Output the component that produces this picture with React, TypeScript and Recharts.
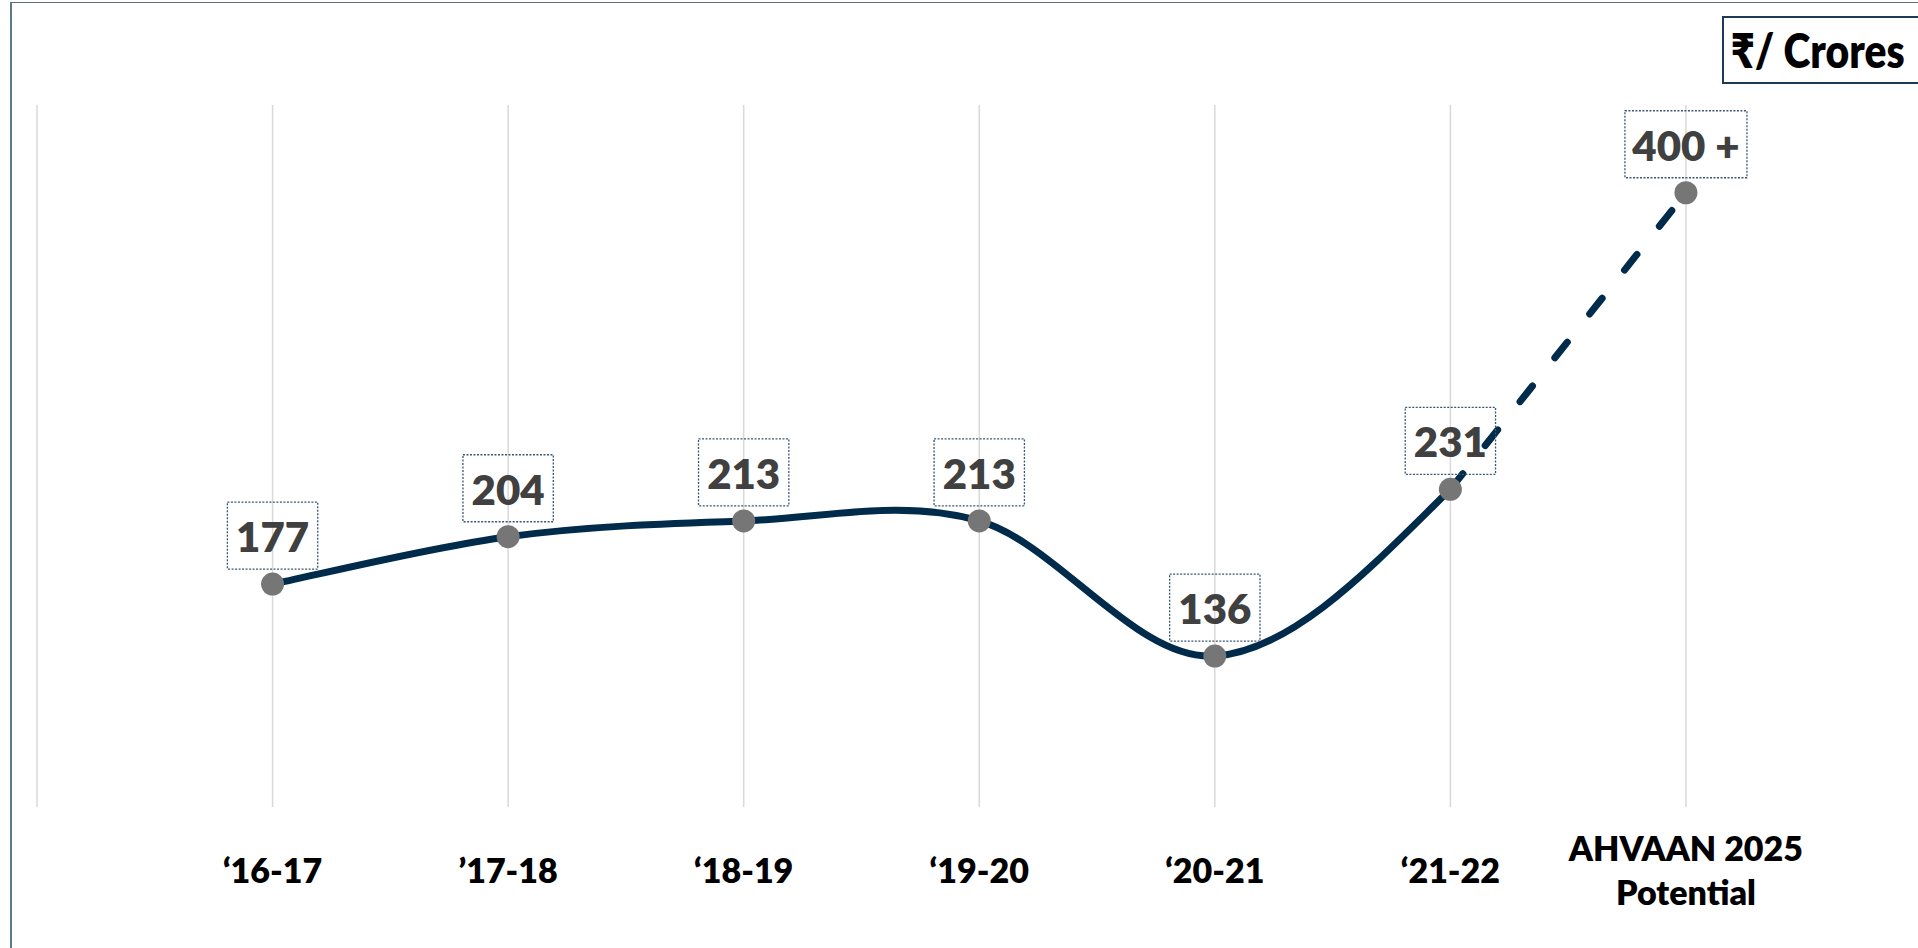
import React from 'react';
import { LineChart, Line, XAxis, YAxis, CartesianGrid, LabelList } from 'recharts';

const categories = ['‘16-17', '’17-18', '‘18-19', '‘19-20', '‘20-21', '‘21-22', 'AHVAAN 2025\nPotential'];
const revenue = [177, 204, 213, 213, 136, 231, 400];
const valueLabels = ['177', '204', '213', '213', '136', '231', '400 +'];
const xTicks = [0, 1, 2, 3, 4, 5, 6, 7];
const yDomain = [50, 450];
const unitLabel = '₹/ Crores';

const data = categories.map((c, i) => ({ pos: i + 1, category: c, revenue: revenue[i], label: valueLabels[i] }));

const FONT = 'Lato, "Open Sans", sans-serif';
const LINE_COLOR = '#002b4b';

function makeCurve(from: number, to: number, smooth: boolean) {
  return (context: any) => {
    let pts: [number, number][] = [];
    return {
      areaStart() {},
      areaEnd() {},
      lineStart() {
        pts = [];
      },
      point(x: number, y: number) {
        pts.push([+x, +y]);
      },
      lineEnd() {
        const end = Math.min(to, pts.length - 1);
        if (from >= end) return;
        context.moveTo(pts[from][0], pts[from][1]);
        for (let i = from; i < end; i++) {
          const p1 = pts[i];
          const p2 = pts[i + 1];
          if (!smooth) {
            context.lineTo(p2[0], p2[1]);
            continue;
          }
          const p0 = pts[i - 1] || p1;
          const p3 = pts[i + 2] || p2;
          context.bezierCurveTo(
            p1[0] + (p2[0] - p0[0]) / 6,
            p1[1] + (p2[1] - p0[1]) / 6,
            p2[0] - (p3[0] - p1[0]) / 6,
            p2[1] - (p3[1] - p1[1]) / 6,
            p2[0],
            p2[1]
          );
        }
      },
    };
  };
}

const solidCurve = makeCurve(0, 5, true);
const dashedCurve = makeCurve(5, 6, false);

function estimateWidth(text: string, size: number) {
  let w = 0;
  for (const ch of text) {
    if (ch === ' ') w += 0.193;
    else w += 0.58;
  }
  return w * size;
}

const DataLabel = (props: any) => {
  const x = props.x ?? props.viewBox?.x;
  const y = props.y ?? props.viewBox?.y;
  const text = String(props.value);
  const w = estimateWidth(text, 41) + 19;
  const h = 67;
  const bottom = y - 15;
  return (
    <g>
      <rect
        x={x - w / 2}
        y={bottom - h}
        width={w}
        height={h}
        fill="none"
        stroke="#3b5670"
        strokeWidth={1.3}
        strokeDasharray="2 1.5"
      />
      <text x={x} y={bottom - 17} textAnchor="middle" fill="#404040" fontSize={42} fontWeight={800} fontFamily={FONT}>
        {text}
      </text>
    </g>
  );
};

const Tick = (props: any) => {
  const { x, y, payload } = props;
  const idx = payload.value - 1;
  if (idx < 0 || idx >= categories.length) return null;
  const lines = categories[idx].split('\n');
  const lh = 44;
  const first = y + 68 - ((lines.length - 1) * lh) / 2;
  return (
    <text x={x} textAnchor="middle" fill="#000" fontSize={34} fontWeight={800} fontFamily={FONT}>
      {lines.map((l, i) => (
        <tspan key={i} x={x} y={first + i * lh}>
          {l}
        </tspan>
      ))}
    </text>
  );
};

export default function App() {
  return (
    <div
      style={{
        position: 'fixed',
        left: 0,
        top: 0,
        width: 1918,
        height: 948,
        overflow: 'hidden',
        background: '#fff',
      }}
    >
      <div
        style={{
          position: 'absolute',
          left: 10,
          top: 2,
          width: 2000,
          height: 1000,
          borderLeft: '2px solid #5a7b8c',
          borderTop: '1.5px solid #5f6f78',
        }}
      />
      <div style={{ position: 'absolute', left: 0, top: 0 }}>
        <LineChart width={1930} height={948} data={data} margin={{ top: 105, right: 8.5, left: 37, bottom: 0 }}>
          <CartesianGrid horizontal={false} stroke="#d9d9d9" strokeWidth={1.5} />
          <XAxis
            type="number"
            dataKey="pos"
            domain={[0, 8]}
            ticks={xTicks}
            interval={0}
            axisLine={false}
            tickLine={false}
            height={141}
            tick={<Tick />}
            allowDataOverflow
          />
          <YAxis type="number" domain={yDomain} hide allowDataOverflow />
          <Line
            dataKey="revenue"
            type={dashedCurve as any}
            stroke={LINE_COLOR}
            strokeWidth={7}
            strokeDasharray="20 36"
            strokeLinecap="round"
            dot={false}
            activeDot={false}
            isAnimationActive={false}
          />
          <Line
            dataKey="revenue"
            type={solidCurve as any}
            stroke={LINE_COLOR}
            strokeWidth={7}
            strokeLinecap="round"
            dot={{ r: 11.5, fill: '#767676', stroke: 'none', strokeWidth: 0 }}
            activeDot={false}
            isAnimationActive={false}
          >
            <LabelList dataKey="label" content={<DataLabel />} />
          </Line>
        </LineChart>
      </div>
      <div
        style={{
          position: 'absolute',
          left: 1722,
          top: 16,
          width: 260,
          height: 64,
          border: '2px solid #1f3a58',
          boxSizing: 'content-box',
          color: '#000',
          whiteSpace: 'nowrap',
          overflow: 'hidden',
        }}
      >
        <span
          style={{
            display: 'inline-block',
            fontFamily: FONT,
            fontWeight: 800,
            fontSize: 48,
            lineHeight: '64px',
            marginLeft: 7,
            transform: 'scaleX(0.85)',
            transformOrigin: 'left center',
          }}
        >
          {unitLabel}
        </span>
      </div>
    </div>
  );
}
